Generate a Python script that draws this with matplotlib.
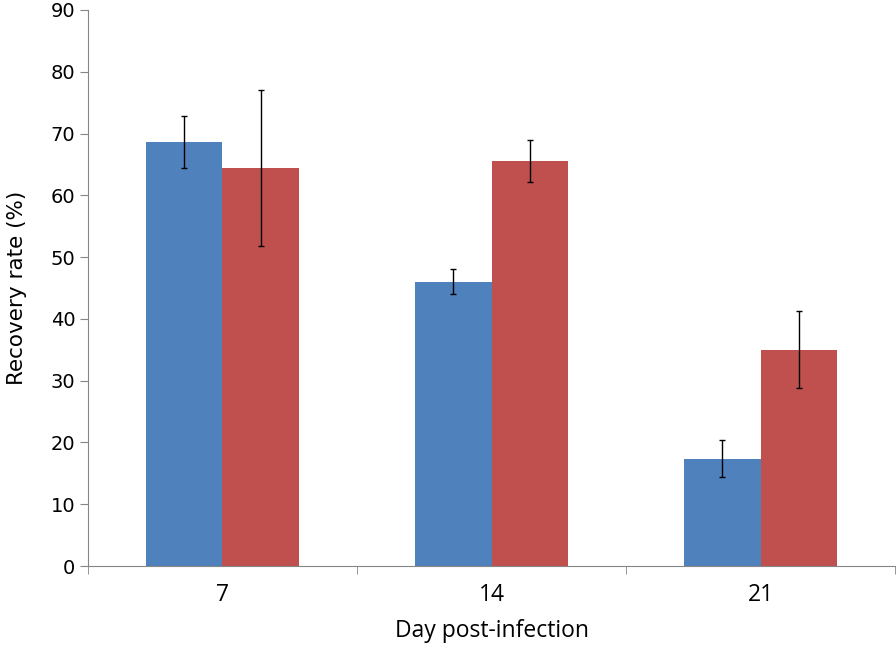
import numpy as np
import matplotlib
matplotlib.use("Agg")
from matplotlib import pyplot as plt

days = ["7", "14", "21"]
blue_vals = [68.7, 46.0, 17.4]
blue_err = [4.2, 2.0, 3.0]
red_vals = [64.4, 65.5, 35.0]
red_err = [12.6, 3.4, 6.2]

plt.rcParams['font.family'] = ['Open Sans', 'DejaVu Sans']

fig = plt.figure(figsize=(8.96, 6.52), dpi=100)
ax = fig.add_axes([0.0982, 0.1319, 0.9007, 0.8528])

x = np.arange(len(days))
w = 0.286
ebar = dict(ecolor='black', elinewidth=1.0, capsize=2.4, capthick=1.0)
ax.bar(x - w / 2, blue_vals, w, yerr=blue_err, color='#4F81BD', error_kw=ebar, zorder=2)
ax.bar(x + w / 2, red_vals, w, yerr=red_err, color='#C0504D', error_kw=ebar, zorder=2)

ax.set_xlim(-0.5, len(days) - 0.5)
ax.set_ylim(0, 90)
ax.set_yticks(np.arange(0, 91, 10))
ax.set_yticklabels([str(v) for v in range(0, 91, 10)], family='DejaVu Sans', fontsize=14)
ax.set_xticks(x)
ax.set_xticklabels(days, fontsize=16.5)
ax.set_xticks(np.arange(-0.5, len(days), 1), minor=True)
ax.tick_params(axis='x', which='major', length=0, pad=12)
ax.tick_params(axis='x', which='minor', length=6, color='#868686')
ax.tick_params(axis='y', length=6, color='#868686', pad=3)

for s in ['top', 'right']:
    ax.spines[s].set_visible(False)
for s in ['left', 'bottom']:
    ax.spines[s].set_color('#868686')

ax.set_ylabel('Recovery rate (%)', family='DejaVu Sans', fontsize=15.5)
ax.yaxis.set_label_coords(-0.075, 0.5)
ax.set_xlabel('Day post-infection', fontsize=16.5)
ax.xaxis.set_label_coords(0.5, -0.095)

fig.savefig('out.png', dpi=100)
